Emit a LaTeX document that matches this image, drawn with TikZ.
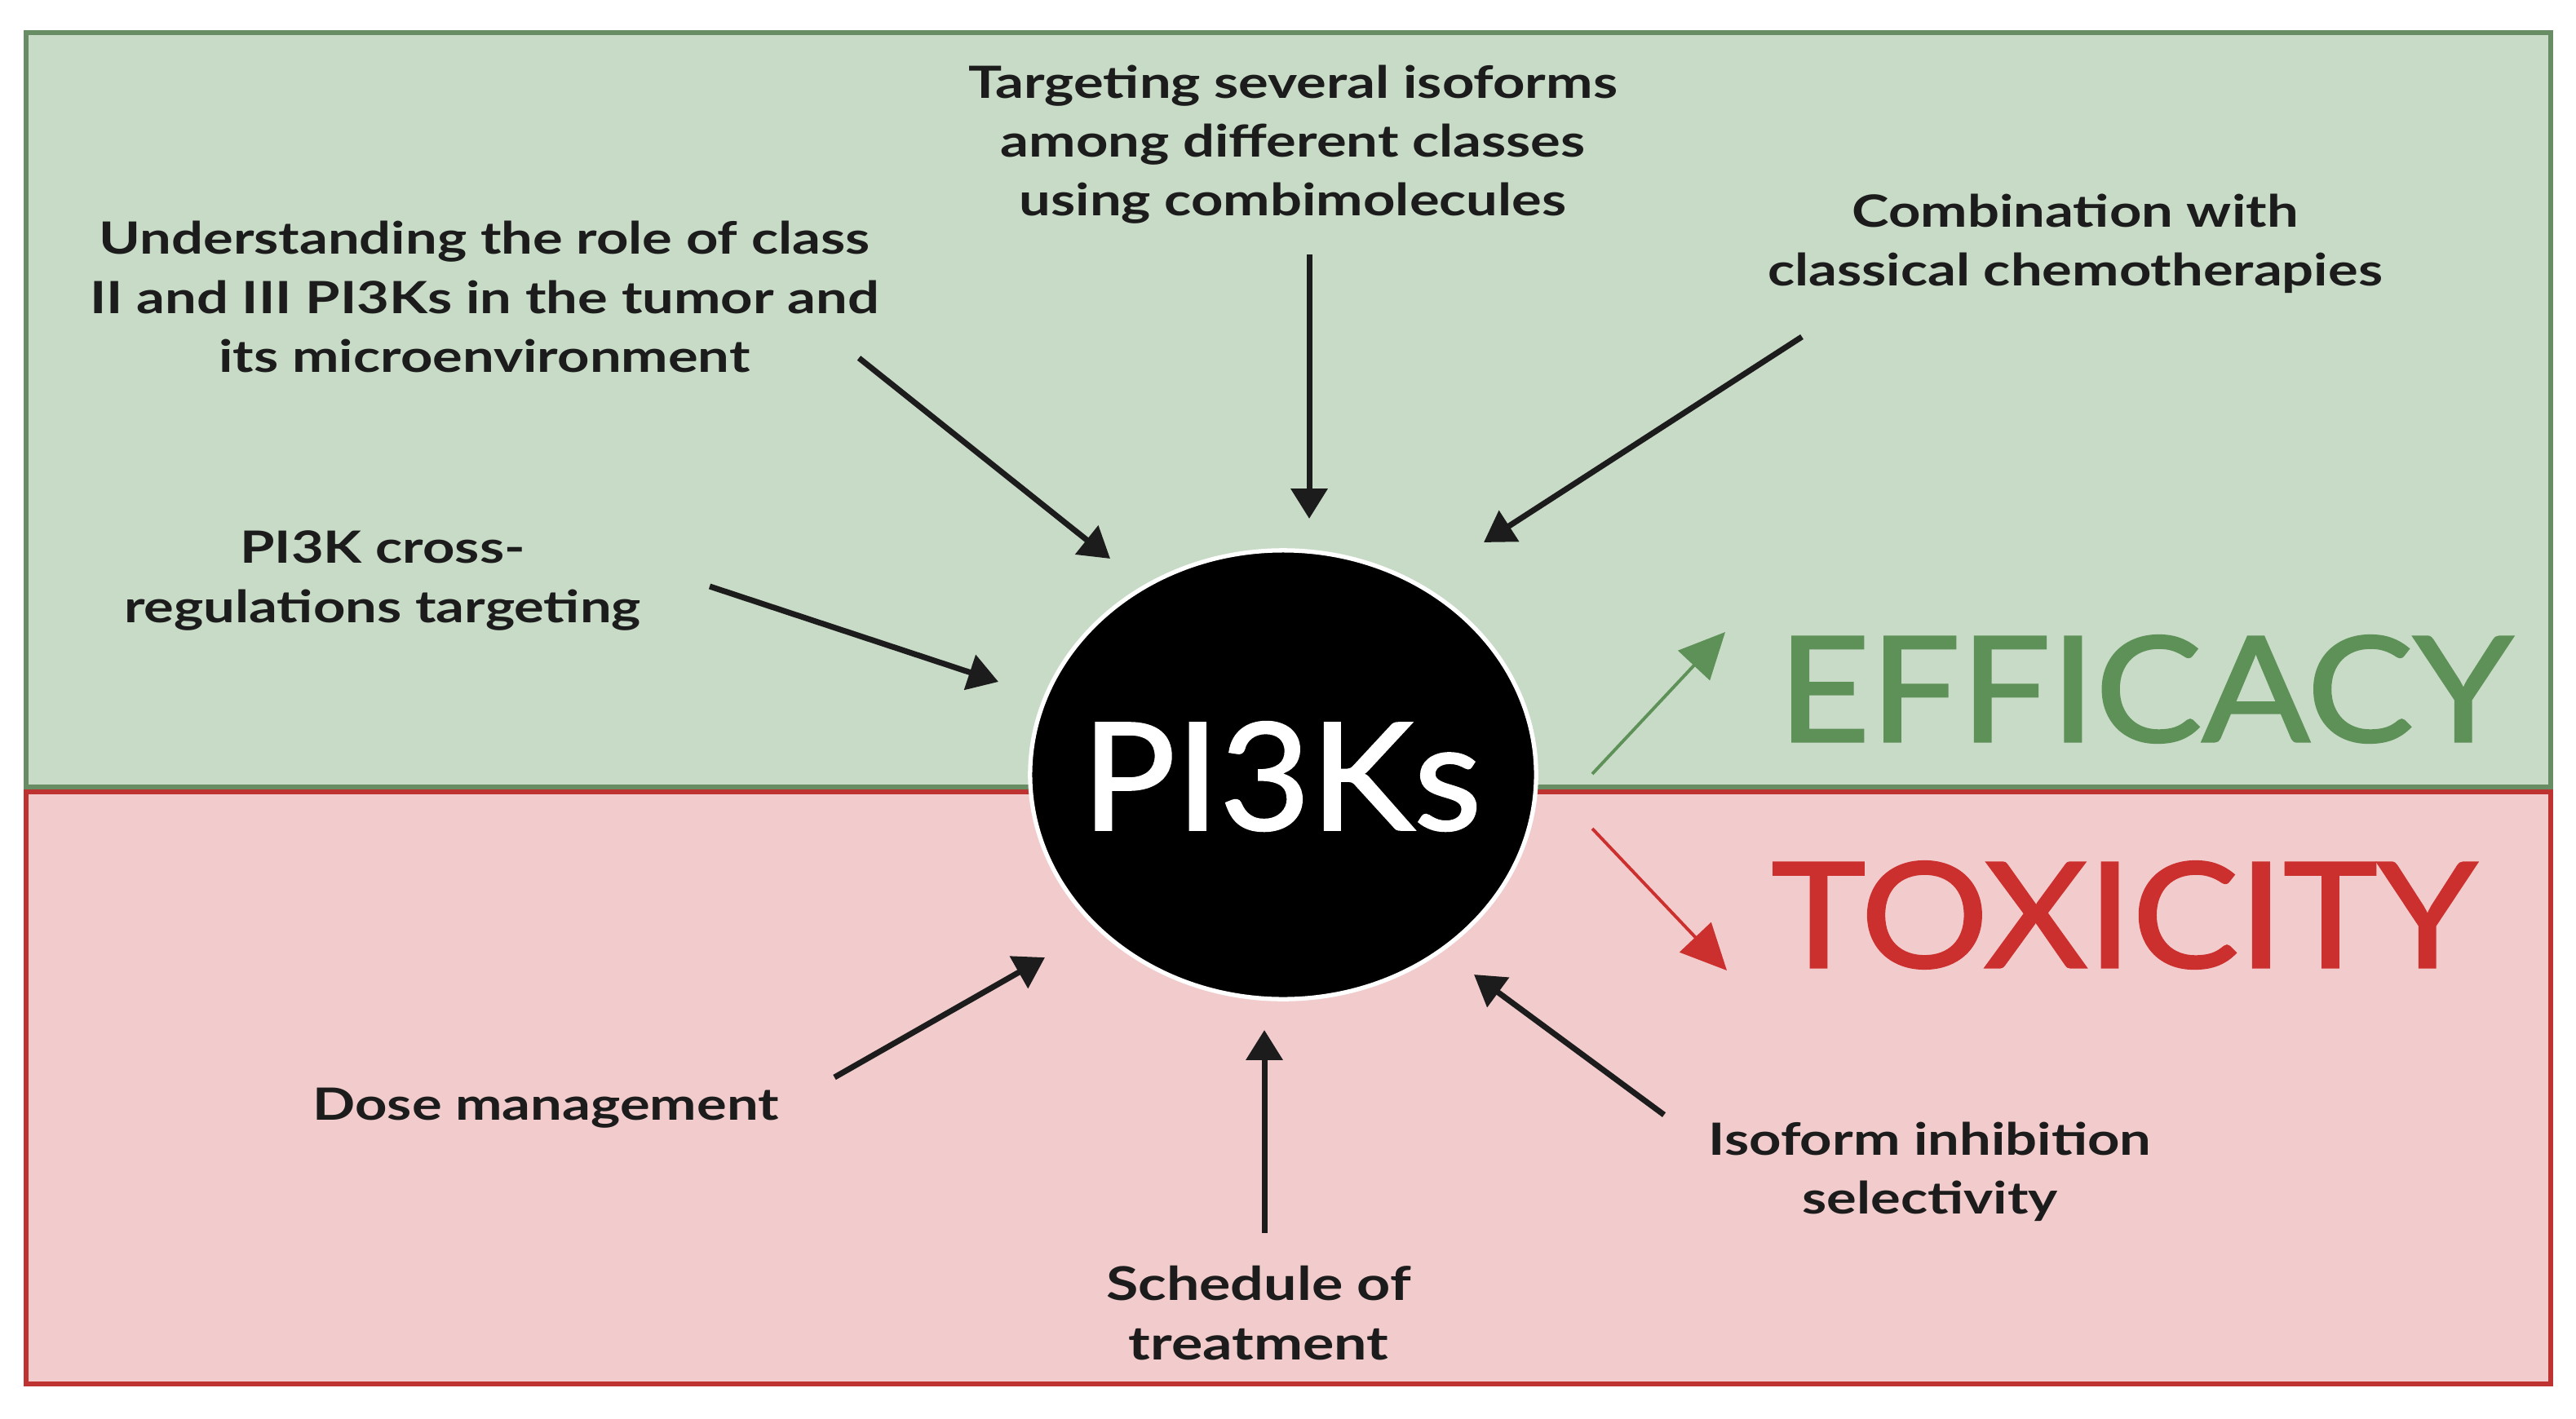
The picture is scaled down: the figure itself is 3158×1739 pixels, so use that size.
\documentclass[tikz,border=0pt]{standalone}
\usepackage{fontspec}
\setmainfont{Lato}[FakeStretch=1.26]
\newfontfamily\bigfont{Lato}[FakeStretch=1.09,FakeBold=1.6]
\newfontfamily\pikfont{Lato}[FakeStretch=1.05,FakeBold=1.4]
\usetikzlibrary{arrows.meta,shapes.geometric}
\definecolor{gfill}{RGB}{200,219,199}
\definecolor{gline}{RGB}{104,140,100}
\definecolor{rfill}{RGB}{242,204,204}
\definecolor{rline}{RGB}{190,50,50}
\definecolor{efftxt}{RGB}{94,145,88}
\definecolor{toxtxt}{RGB}{204,48,46}
\definecolor{ink}{RGB}{28,28,28}
\tikzset{
  lbl/.style={align=center, text=ink, inner sep=0pt, font=\bfseries\fontsize{15.5}{20.5}\selectfont},
  big/.style={inner sep=0pt, font=\bigfont\fontsize{51}{51}\selectfont},
  blackarrow/.style={draw=ink, line width=2pt, -{Triangle[length=10.5pt,width=12.5pt]}},
  effarrow/.style={draw=efftxt, line width=1.1pt, -{Triangle[length=16pt,width=15pt]}},
  toxarrow/.style={draw=toxtxt, line width=1.1pt, -{Triangle[length=16pt,width=15pt]}},
}
\begin{document}
\begin{tikzpicture}[x=0.01cm,y=-0.01cm]
\useasboundingbox[fill=white] (0,0) rectangle (3158,1739);
% panels
\draw[fill=gfill, draw=gline, line width=1.7pt] (32,40) rectangle (3127,965);
\draw[fill=rfill, draw=rline, line width=1.7pt] (32,971) rectangle (3127,1697);
% centre
\node[ellipse, fill=black, draw=white, line width=1.5pt, minimum width=6.2cm, minimum height=5.5cm, inner sep=0pt] (pik) at (1573,950) {};
\node[text=white, inner sep=0pt, font=\pikfont\fontsize{52}{52}\selectfont] (piktxt) at (1571,952) {PI3Ks};
% labels
\node[lbl] (target) at (1585,177) {Targeting several isoforms\\among different classes\\using combimolecules};
\node[lbl] (underst) at (594,364) {Understanding the role of class\\II and III PI3Ks in the tumor and\\its microenvironment};
\node[lbl] (combo) at (2544,299) {Combination with\\classical chemotherapies};
\node[lbl] (cross) at (469,712) {PI3K cross-\\regulations targeting};
\node[lbl] (dose) at (669,1359) {Dose management};
\node[lbl, font=\bfseries\fontsize{16.2}{20.5}\selectfont] (sched) at (1543,1610) {Schedule of\\treatment};
\node[lbl] (iso) at (2366,1437) {Isoform inhibition\\selectivity};
\node[big, text=efftxt] (eff) at (2630,845) {EFFICACY};
\node[big, text=toxtxt] (tox) at (2604,1122) {TOXICITY};
% arrow end points
\coordinate (a1s) at (1053,439); \coordinate (a1e) at (1361,685);
\coordinate (a2s) at (1605,312); \coordinate (a2e) at (1605,636);
\coordinate (a3s) at (2209,413); \coordinate (a3e) at (1819,665);
\coordinate (a4s) at (870,719);  \coordinate (a4e) at (1224,836);
\coordinate (a5s) at (1023,1321); \coordinate (a5e) at (1281,1174);
\coordinate (a6s) at (1550,1512); \coordinate (a6e) at (1550,1263);
\coordinate (a7s) at (2040,1367); \coordinate (a7e) at (1807,1195);
\coordinate (ges) at (1952,949); \coordinate (gee) at (2115,775);
\coordinate (res) at (1952,1016); \coordinate (ree) at (2117,1190);
\draw[blackarrow] (a1s) -- (a1e);
\draw[blackarrow] (a2s) -- (a2e);
\draw[blackarrow] (a3s) -- (a3e);
\draw[blackarrow] (a4s) -- (a4e);
\draw[blackarrow] (a5s) -- (a5e);
\draw[blackarrow] (a6s) -- (a6e);
\draw[blackarrow] (a7s) -- (a7e);
\draw[effarrow] (ges) -- (gee);
\draw[toxarrow] (res) -- (ree);
\end{tikzpicture}
\end{document}
